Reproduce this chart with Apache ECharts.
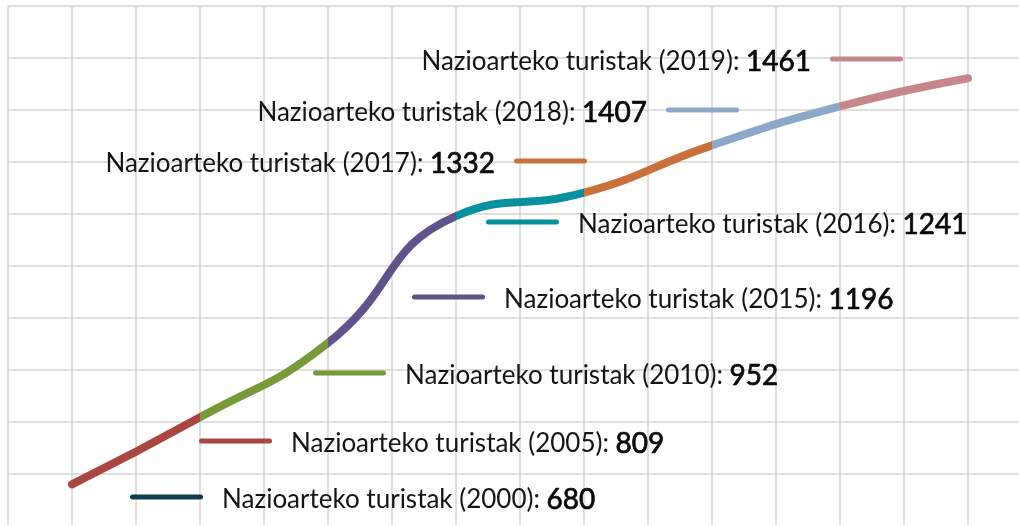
<!DOCTYPE html>
<html>
<head>
<meta charset="utf-8">
<script src="https://cdn.jsdelivr.net/npm/echarts@6/dist/echarts.min.js"></script>
<style>
html,body{margin:0;padding:0;background:#fff;}
#chart{width:1019px;height:525px;}
</style>
</head>
<body>
<div id="chart"></div>
<script>
// ---- data ----
const years = ['2000', '2005', '2010', '2015', '2016', '2017', '2018', '2019'];
const values = [680, 809, 952, 1196, 1241, 1332, 1407, 1461];
const seriesLabel = 'Nazioarteko turistak';

// ---- styles / layout ----
const colors = ['#0e3d52', '#a8473f', '#789a3b', '#5f5389', '#07919f', '#c9713b', '#8da7c9', '#c5878b'];
const legendLayout = [
  { left: 130, cy: 497 },
  { left: 199, cy: 441 },
  { left: 313, cy: 373 },
  { left: 412, cy: 297 },
  { left: 486, cy: 222 },
  { right: 432, cy: 161 },
  { right: 280, cy: 110 },
  { right: 116, cy: 59 }
];
const FONT = 'Lato';
const LINE_H = 32;
const TEXT_SHIFT = 6;

const names = years.map(y => seriesLabel + ' (' + y + ')');
const capsule = 'path://M2.5,0 H70.5 A2.5,2.5 0 0 1 70.5,5 H2.5 A2.5,2.5 0 0 1 2.5,0 Z';

const legends = names.map((n, i) => {
  const L = legendLayout[i];
  const rightAligned = L.right !== undefined;
  const lg = {
    data: [n],
    orient: 'horizontal',
    top: L.cy - (LINE_H + TEXT_SHIFT) / 2,
    padding: 0,
    icon: capsule,
    itemWidth: 73,
    itemHeight: 5,
    selectedMode: false,
    align: rightAligned ? 'right' : 'left',
    formatter: name => name + ': {b|' + values[names.indexOf(name)] + '}',
    textStyle: {
      fontFamily: FONT,
      fontSize: 26,
      color: '#141414',
      lineHeight: LINE_H,
      padding: rightAligned ? [TEXT_SHIFT, 14, 0, 0] : [TEXT_SHIFT, 0, 0, 14],
      rich: {
        b: {
          fontFamily: FONT, fontSize: 28, fontWeight: 'normal', color: '#0a0a0a',
          textBorderColor: '#0a0a0a', textBorderWidth: 0.7, lineHeight: LINE_H
        }
      }
    }
  };
  if (rightAligned) lg.right = L.right; else lg.left = L.left;
  return lg;
});

const pieces = [];
for (let i = 1; i < values.length; i++) {
  const p = { color: colors[i] };
  if (i > 1) p.gt = i - 1;
  if (i < values.length - 1) p.lte = i;
  pieces.push(p);
}

const series = [{
  name: 'main',
  type: 'line',
  data: values.map((v, i) => [i, v]),
  smooth: 0.5,
  showSymbol: false,
  symbol: 'none',
  lineStyle: { width: 8, cap: 'round', join: 'round' },
  z: 3
}];
names.forEach((n, i) => {
  series.push({
    name: n,
    type: 'line',
    data: [],
    color: colors[i],
    itemStyle: { color: colors[i] },
    lineStyle: { color: colors[i] }
  });
});

const chart = echarts.init(document.getElementById('chart'), null, { renderer: 'canvas' });
chart.setOption({
  animation: false,
  backgroundColor: '#fff',
  grid: { left: 8, top: 6, width: 1024, height: 520, containLabel: false, outerBoundsMode: 'none' },
  xAxis: {
    type: 'value',
    min: -0.5,
    max: 7.5,
    interval: 0.5,
    axisLine: { show: false },
    axisTick: { show: false },
    axisLabel: { show: false },
    splitLine: { show: true, lineStyle: { color: '#d4d4d4', width: 1.5 } }
  },
  yAxis: {
    type: 'value',
    min: 600,
    max: 1600,
    interval: 100,
    axisLine: { show: false },
    axisTick: { show: false },
    axisLabel: { show: false },
    splitLine: { show: true, lineStyle: { color: '#d4d4d4', width: 1.5 } }
  },
  visualMap: {
    type: 'piecewise',
    show: false,
    dimension: 0,
    seriesIndex: 0,
    pieces: pieces
  },
  legend: legends,
  series: series
});
</script>
</body>
</html>
